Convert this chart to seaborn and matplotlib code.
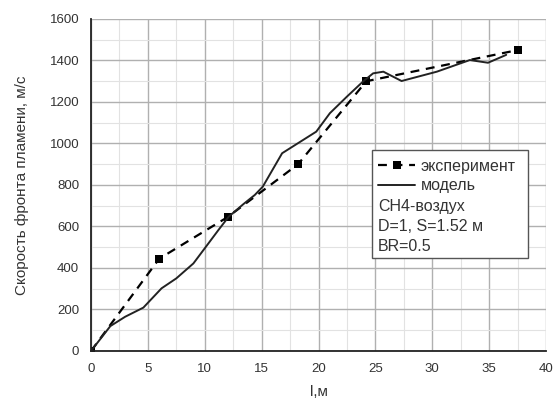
import seaborn as sns
import matplotlib.pyplot as plt
from matplotlib.patches import Rectangle
from matplotlib.ticker import MultipleLocator
import pandas as pd

# experiment (markers + dashed line)
exp_x = [0, 6, 12, 18.2, 24.2, 37.5]
exp_y = [0, 445, 645, 900, 1300, 1450]

# model (solid line)
mod_x = [0, 1.7, 3.0, 4.6, 6.2, 7.5, 9.0, 10.0, 11.2, 12.1, 13.4, 14.4, 15.1, 16.8,
         19.8, 21.0, 22.5, 23.9, 24.8, 25.7, 27.3, 30.4, 33.3, 34.9, 36.5]
mod_y = [0, 120, 165, 209, 302, 350, 422, 495, 583, 647, 708, 752, 792, 953,
         1057, 1146, 1226, 1298, 1338, 1346, 1301, 1346, 1402, 1389, 1427]

notes = ["CH4-воздух", "D=1, S=1.52 м", "BR=0.5"]

sns.set_style("white")
plt.rcParams["font.family"] = ["Liberation Sans", "DejaVu Sans"]
txt = "#333333"

fig = plt.figure(figsize=(5.53, 4.01), dpi=100)
ax = fig.add_axes([0.1646, 0.1247, 0.8228, 0.828])

exp = pd.DataFrame({"x": exp_x, "y": exp_y})
mod = pd.DataFrame({"x": mod_x, "y": mod_y})
sns.lineplot(data=exp, x="x", y="y", ax=ax, color="black", lw=1.6,
             ls=(0, (4, 3)), marker="s", markersize=6, markeredgewidth=0,
             label="эксперимент")
sns.lineplot(data=mod, x="x", y="y", ax=ax, color="#222222", lw=1.4,
             label="модель")

ax.set_xlim(0, 40)
ax.set_ylim(0, 1600)
ax.xaxis.set_major_locator(MultipleLocator(5))
ax.xaxis.set_minor_locator(MultipleLocator(2.5))
ax.yaxis.set_major_locator(MultipleLocator(200))
ax.yaxis.set_minor_locator(MultipleLocator(100))
ax.grid(which="major", color="#b0b0b0", lw=1.0)
ax.grid(which="minor", color="#e2e2e2", lw=0.8)
ax.set_axisbelow(True)

for s in ["top", "right"]:
    ax.spines[s].set_visible(False)
for s in ["left", "bottom"]:
    ax.spines[s].set_color("#222222")
    ax.spines[s].set_linewidth(1.3)
ax.tick_params(which="major", direction="out", length=5, width=1.2,
               colors="#222222", labelcolor=txt, labelsize=9.5)
ax.tick_params(which="minor", direction="out", length=3, width=1.0,
               colors="#222222")

ax.set_xlabel("l,м", fontsize=11, color=txt, labelpad=7)
ax.set_ylabel("Скорость фронта пламени, м/с", fontsize=11, color=txt,
              labelpad=15)

# legend box with extra notes
ax.add_patch(Rectangle((0.6176, 0.28), 0.342, 0.325, transform=ax.transAxes,
                       facecolor="white", edgecolor="#555555", lw=1.0,
                       zorder=5))
leg = ax.legend(loc="upper left", bbox_to_anchor=(0.617, 0.598), frameon=False,
                fontsize=11.5, handlelength=2.3, handletextpad=0.35,
                labelspacing=0.28, borderaxespad=0)
leg.set_zorder(6)
for t in leg.get_texts():
    t.set_color(txt)
ax.text(0.631, 0.458, "\n".join(notes), transform=ax.transAxes, va="top",
        ha="left", fontsize=11.5, color=txt, linespacing=1.4, zorder=7)

fig.savefig("out.png", dpi=100)
